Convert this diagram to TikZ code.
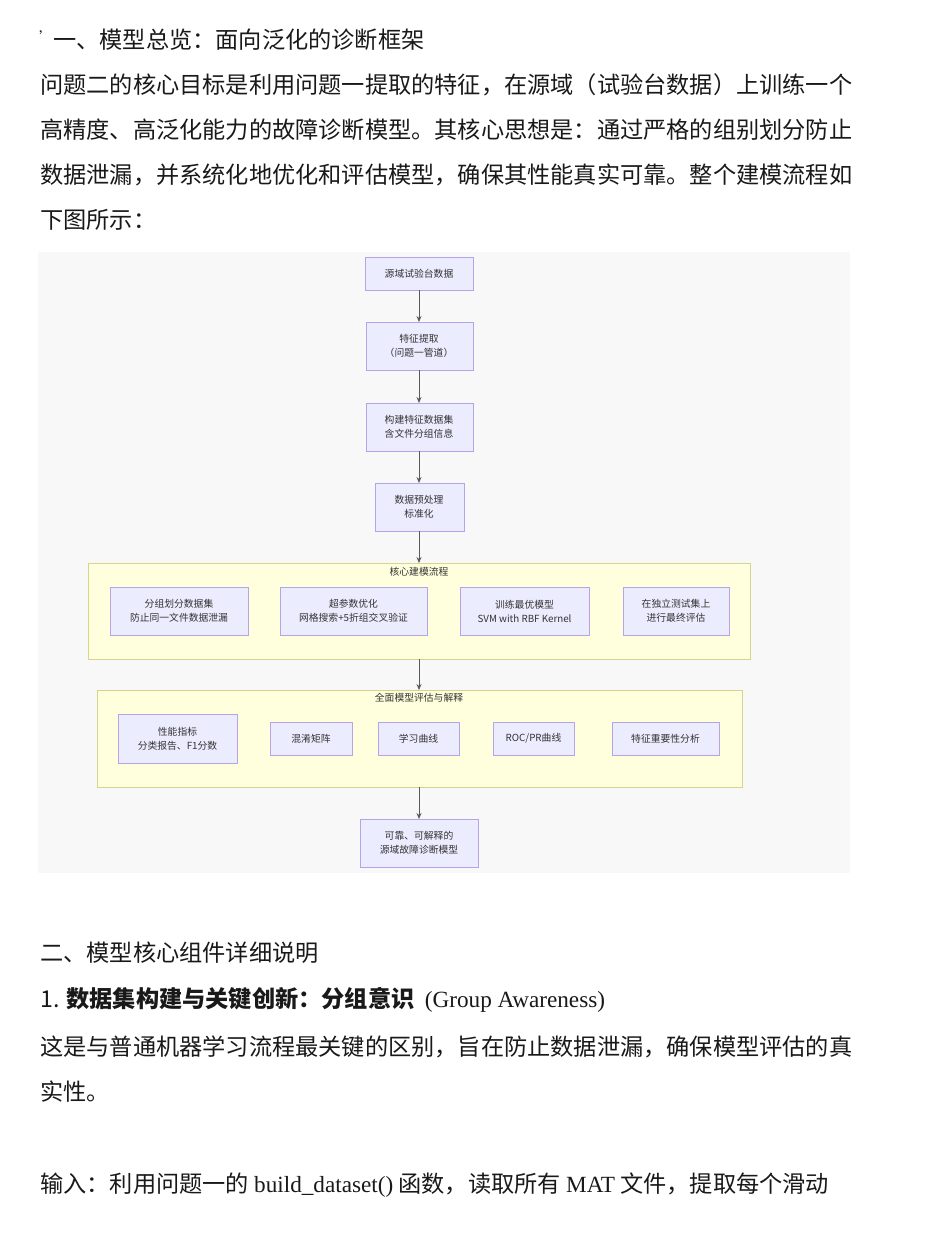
\documentclass[tikz,border=0pt]{standalone}
\usepackage{fontspec}
\setmainfont{Noto Sans CJK SC}
\newfontfamily\lat{Liberation Serif}
\usetikzlibrary{arrows.meta}
\definecolor{bx}{HTML}{ECECFF}
\definecolor{bxd}{HTML}{B7A4E8}
\definecolor{cl}{HTML}{FFFFDE}
\definecolor{cld}{HTML}{D6D68A}
\definecolor{bgc}{HTML}{F8F8F8}
\begin{document}
\begin{tikzpicture}[x=1pt,y=-1pt,
  txt/.style={anchor=west,inner sep=0,font=\fontsize{23.2}{23.2}\selectfont,text=black!90},
  bxs/.style={draw=bxd,fill=bx,line width=0.8pt},
  lab/.style={font=\fontsize{9.8}{14}\selectfont,align=center,text=black!80},
  clu/.style={draw=cld,fill=cl,line width=0.8pt},
  arr/.style={draw=black!65,line width=0.7pt,-{Stealth[length=6pt,width=5pt]}}]
\useasboundingbox[fill=white] (0,0) rectangle (938,1236);
\node[txt,font=\fontsize{14}{14}\selectfont] (m) at (39,37) {'};
\node[txt] (h1) at (53,40) {一、模型总览：面向泛化的诊断框架};
\node[txt] (p1) at (40,85) {问题二的核心目标是利用问题一提取的特征，在源域（试验台数据）上训练一个};
\node[txt] (p2) at (40,130) {高精度、高泛化能力的故障诊断模型。其核心思想是：通过严格的组别划分防止};
\node[txt] (p3) at (40,175) {数据泄漏，并系统化地优化和评估模型，确保其性能真实可靠。整个建模流程如};
\node[txt] (p4) at (40,220) {下图所示：};
\fill[bgc] (38,252) rectangle (850,873);
% top chain
\draw[bxs] (365,257) rectangle (473,290); \node[lab] (a) at (419,273.5) {源域试验台数据};
\draw[bxs] (366,322) rectangle (473,370); \node[lab] (b) at (419,346) {特征提取\\（问题一管道）};
\draw[bxs] (366,403) rectangle (473,451); \node[lab] (c) at (419,427) {构建特征数据集\\含文件分组信息};
\draw[bxs] (375,483) rectangle (464,531); \node[lab] (d) at (419,507) {数据预处理\\标准化};
% cluster 1
\draw[clu] (88,563) rectangle (750,659); \node[lab] (c1) at (419,572) {核心建模流程};
\draw[bxs] (110,587) rectangle (248,635); \node[lab] (e1) at (179,611) {分组划分数据集\\防止同一文件数据泄漏};
\draw[bxs] (280,587) rectangle (427,635); \node[lab] (e2) at (353.5,611) {超参数优化\\网格搜索+5折组交叉验证};
\draw[bxs] (460,587) rectangle (589,635); \node[lab] (e3) at (524.5,611) {训练最优模型\\SVM with RBF Kernel};
\draw[bxs] (623,587) rectangle (729,635); \node[lab] (e4) at (676,611) {在独立测试集上\\进行最终评估};
% cluster 2
\draw[clu] (97,690) rectangle (742,787); \node[lab] (c2) at (419,698) {全面模型评估与解释};
\draw[bxs] (118,714) rectangle (237,763); \node[lab] (f1) at (177.5,738.5) {性能指标\\分类报告、F1分数};
\draw[bxs] (270,722) rectangle (352,755); \node[lab] (f2) at (311,738.5) {混淆矩阵};
\draw[bxs] (378,722) rectangle (459,755); \node[lab] (f3) at (418.5,738.5) {学习曲线};
\draw[bxs] (493,722) rectangle (574,755); \node[lab] (f4) at (533.5,738.5) {ROC/PR曲线};
\draw[bxs] (612,722) rectangle (719,755); \node[lab] (f5) at (665.5,738.5) {特征重要性分析};
\draw[bxs] (360,819) rectangle (478,867); \node[lab] (g) at (419,843) {可靠、可解释的\\源域故障诊断模型};
\coordinate (a1) at (419,290); \coordinate (b0) at (419,322);
\coordinate (b1) at (419,370); \coordinate (c0) at (419,403);
\coordinate (cc1) at (419,451); \coordinate (d0) at (419,483);
\coordinate (d1) at (419,531); \coordinate (k0) at (419,563);
\coordinate (k1) at (419,659); \coordinate (l0) at (419,690);
\coordinate (l1) at (419,787); \coordinate (g0) at (419,819);
\draw[arr] (a1)--(b0); \draw[arr] (b1)--(c0); \draw[arr] (cc1)--(d0);
\draw[arr] (d1)--(k0); \draw[arr] (k1)--(l0); \draw[arr] (l1)--(g0);
% bottom text
\node[txt] (h2) at (40,953) {二、模型核心组件详细说明};
\node[txt] (s1) at (40,1000) {1. \textbf{数据集构建与关键创新：分组意识}\ \ {\lat (Group Awareness)}};
\node[txt] (q1) at (40,1047) {这是与普通机器学习流程最关键的区别，旨在防止数据泄漏，确保模型评估的真};
\node[txt] (q2) at (40,1092) {实性。};
\node[txt] (q3) at (40,1185) {输入：利用问题一的 {\lat build\_dataset()} 函数，读取所有 {\lat MAT} 文件，提取每个滑动};
\end{tikzpicture}
\end{document}
